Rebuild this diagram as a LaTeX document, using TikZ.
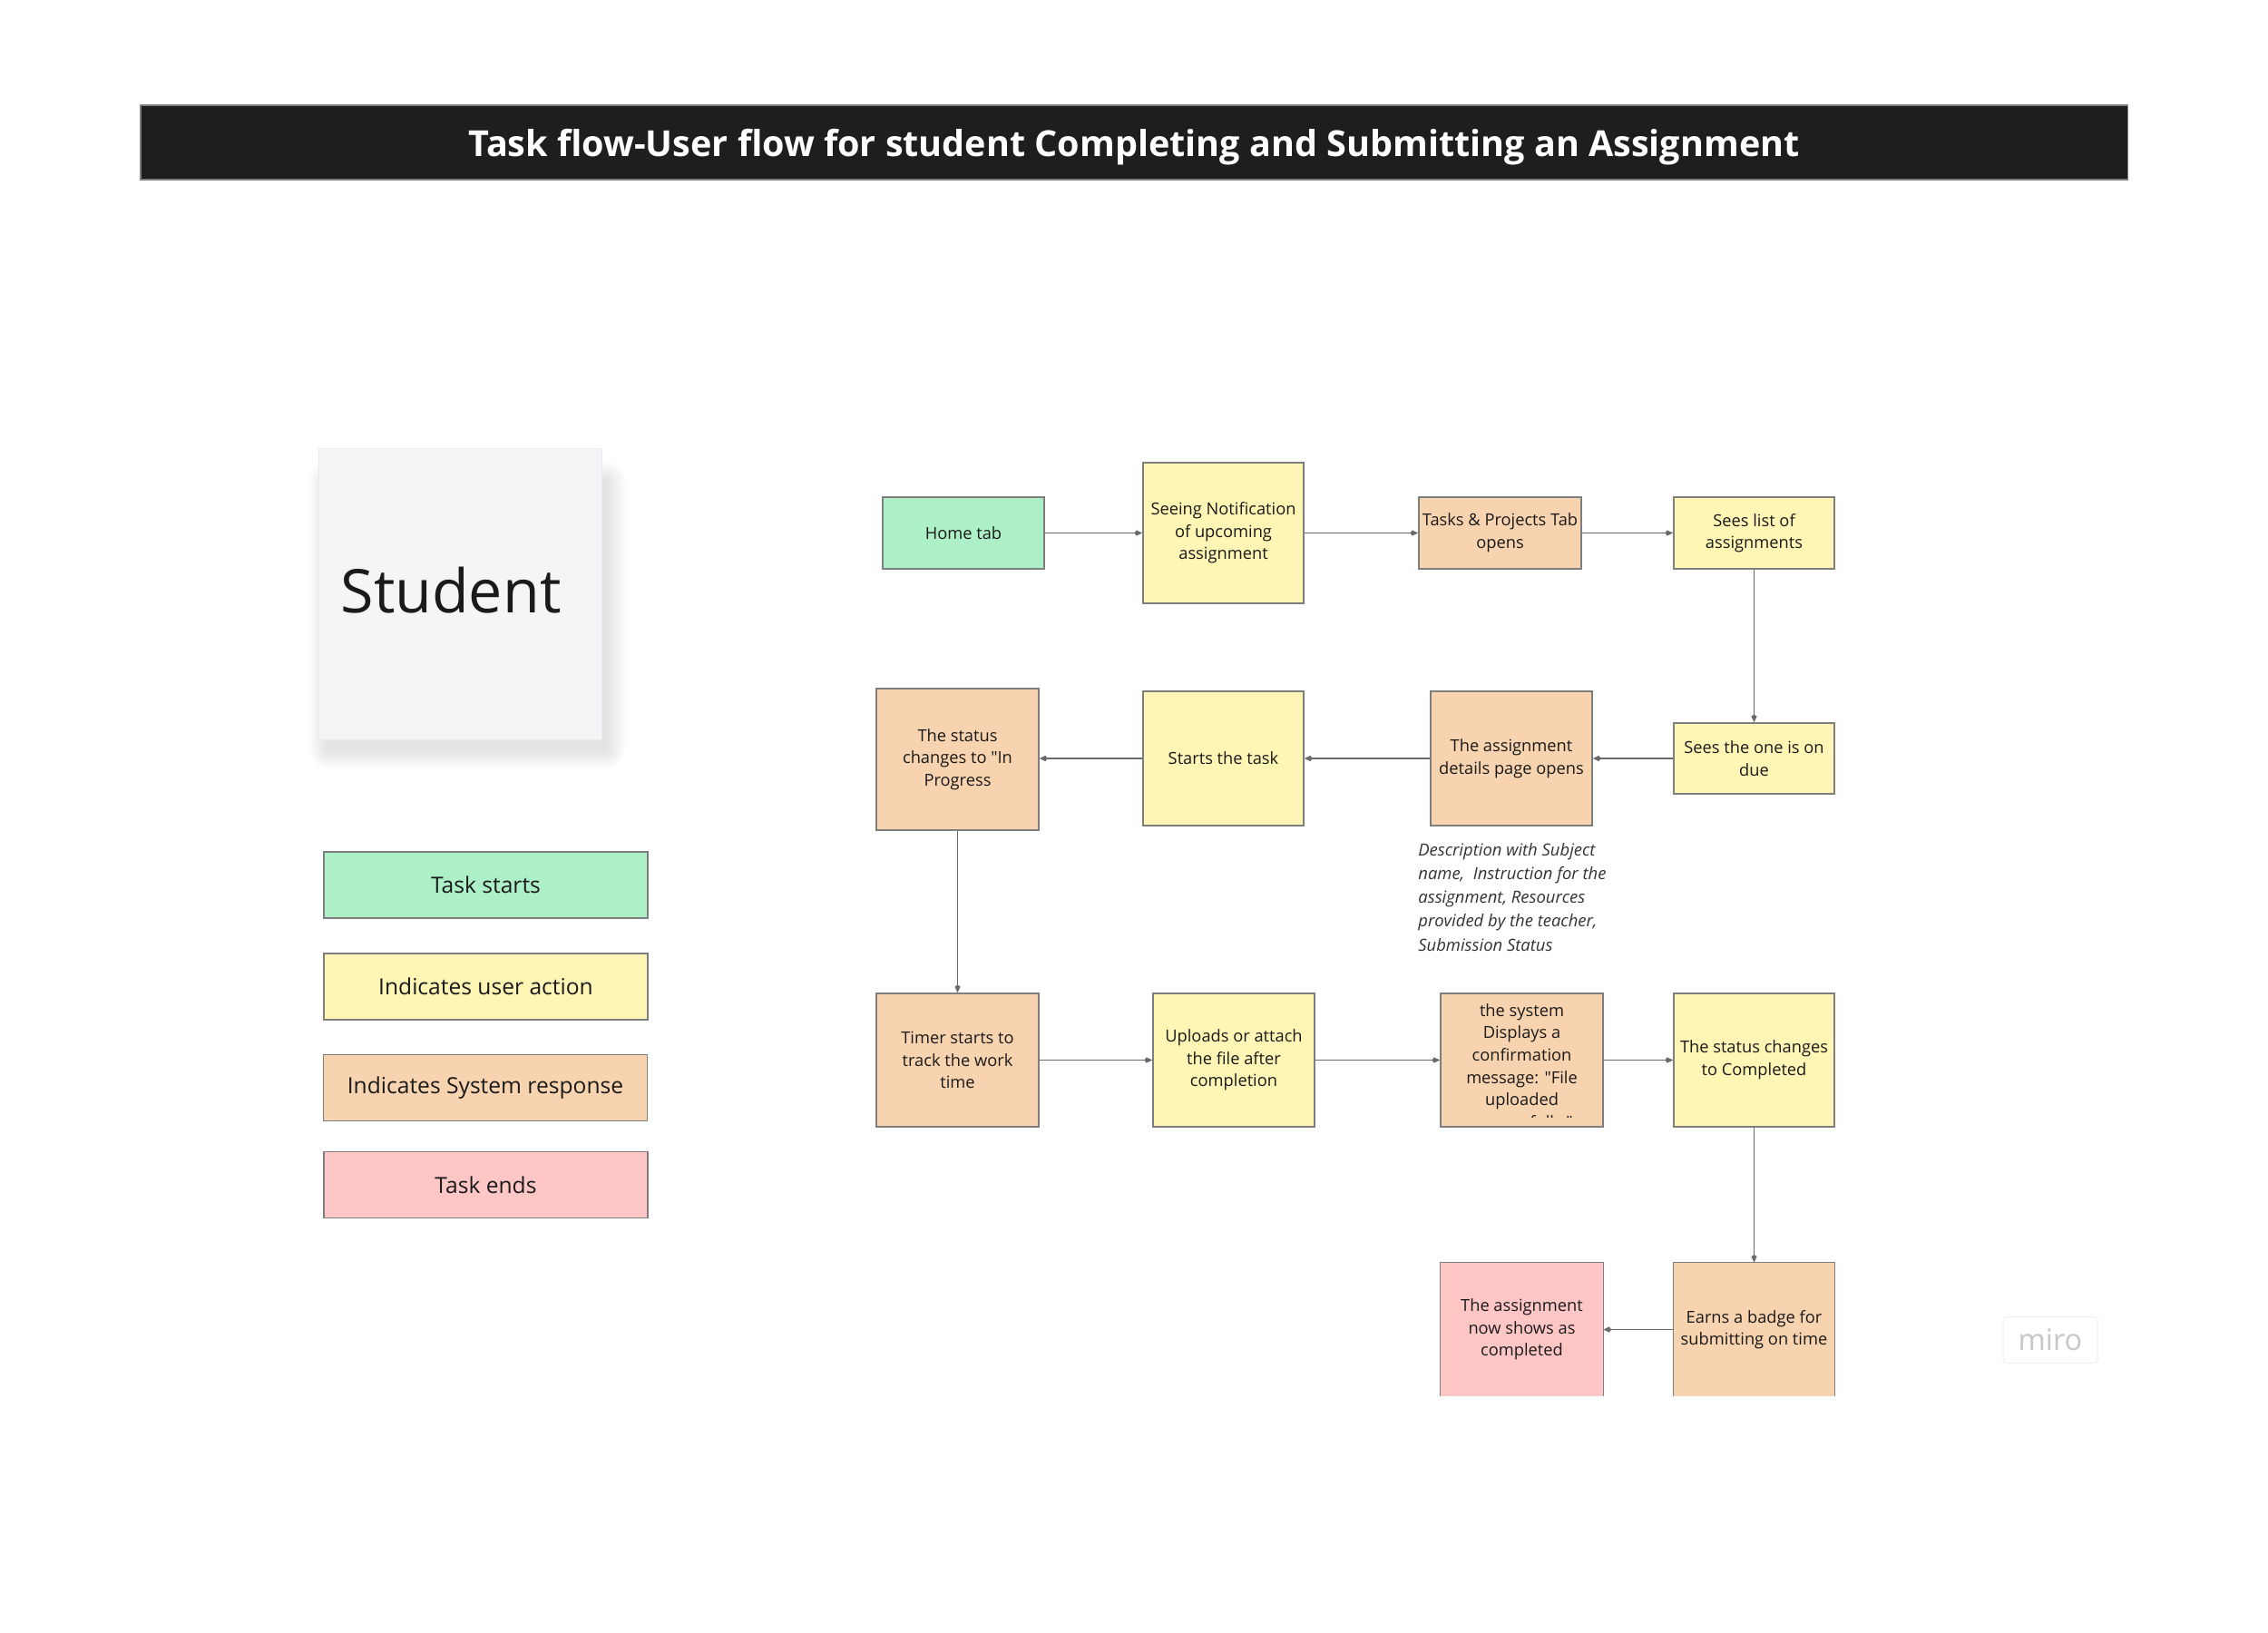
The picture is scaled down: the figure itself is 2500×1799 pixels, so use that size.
\documentclass[tikz,border=0pt]{standalone}
\usepackage{fontspec}
\setmainfont{Open Sans}[Ligatures=TeXOff]
\usetikzlibrary{arrows.meta}
\definecolor{cgreen}{HTML}{ADF0C7}
\definecolor{cyellow}{HTML}{FFF6B6}
\definecolor{corange}{HTML}{F8D3AF}
\definecolor{cpink}{HTML}{FFC6C6}
\definecolor{cborder}{HTML}{7E7E7E}
\definecolor{cline}{HTML}{6A6A6A}
\definecolor{ctext}{HTML}{1A1A1A}
\definecolor{ctitle}{HTML}{1E1E1E}
\definecolor{cstudent}{HTML}{F4F5F7}
\begin{document}
\begin{tikzpicture}[x=0.02cm,y=-0.02cm,
  every node/.style={text=ctext},
  flowbox/.style={draw=cborder,line width=0.9pt,inner sep=0pt,align=center,
    font=\fontsize{10.4}{14}\selectfont},
  fillonly/.style={inner sep=0pt,align=center,font=\fontsize{10.4}{14}\selectfont},
  bd/.style={draw=cborder,line width=0.9pt},
  wbox/.style={minimum width=3.56cm,minimum height=1.58cm},
  tbox/.style={minimum width=3.56cm,minimum height=2.96cm},
  legend/.style={draw=cborder,line width=0.9pt,minimum width=7.14cm,minimum height=1.46cm,
    inner sep=0pt,font=\fontsize{14}{16}\selectfont},
  conn/.style={draw=cline,line width=0.9pt,-{Kite[length=5pt,width=3.5pt]}}
]
\useasboundingbox (0,0) rectangle (2500,1799);
\fill[white] (0,0) rectangle (2500,1799);

% title bar
\fill[ctitle] (155,116) rectangle (2345,198);
\draw[cborder,line width=0.6pt] (155,116) rectangle (2345,198);
\node[inner sep=0pt,text=white,font=\bfseries\fontsize{22.5}{26}\selectfont] (title) at (1250,162)
  {Task flow-User flow for student Completing and Submitting an Assignment};

% student card with soft shadow
\foreach \i in {1,...,14}{
  \fill[black,opacity=0.006,rounded corners=\i pt] (362-1.6*\i,530-1.6*\i) rectangle (668+1.6*\i,826+1.6*\i);
}
\node[fill=cstudent,draw=black!8,line width=0.5pt,minimum width=6.24cm,minimum height=6.42cm,inner sep=0pt] (student) at (507,654.5) {};
\node[font=\fontsize{37.8}{42}\selectfont,inner sep=0pt] (studentlabel) at (497,651) {Student};

% legend
\node[legend,fill=cgreen] (lgstart) at (535.5,975.5) {Task starts};
\node[legend,fill=cyellow] (lguser) at (535.5,1087.5) {Indicates user action};
\node[legend,fill=corange] (lgsys) at (535,1199) {Indicates System response};
\node[legend,fill=cpink] (lgend) at (535.5,1306) {Task ends};

% row 1
\node[flowbox,wbox,fill=cgreen] (home) at (1062,587.5) {Home tab};
\node[flowbox,fill=cyellow,minimum width=3.54cm,minimum height=3.1cm] (notif) at (1348.5,587.5)
  {Seeing Notification\\of upcoming\\assignment};
\node[flowbox,wbox,fill=corange,minimum width=3.58cm] (tasks) at (1653.5,587.5) {Tasks \& Projects Tab\\opens};
\node[flowbox,wbox,fill=cyellow,minimum width=3.54cm] (list) at (1933.5,587.5) {Sees list of\\assignments};

% row 2
\node[flowbox,wbox,fill=cyellow,minimum width=3.54cm,minimum height=1.56cm] (due) at (1933.5,836) {Sees the one is on\\due};
\node[flowbox,tbox,fill=corange] (details) at (1666,836) {The assignment\\details page opens};
\node[flowbox,tbox,fill=cyellow,minimum width=3.54cm] (starts) at (1348.5,836) {Starts the task};
\node[flowbox,tbox,fill=corange,minimum width=3.58cm,minimum height=3.12cm] (inprog) at (1055.5,837)
  {The status\\changes to "In\\Progress};

\node[align=left,anchor=north west,inner sep=0pt,font=\itshape\fontsize{10.5}{14.9}\selectfont,text=black!80] (desc) at (1563,929)
  {Description with Subject\\name,\ \ Instruction for the\\assignment, Resources\\provided by the teacher,\\Submission Status};

% row 3
\node[flowbox,tbox,fill=corange,minimum width=3.58cm,minimum height=2.94cm] (timer) at (1055.5,1168.5)
  {Timer starts to\\track the work\\time};
\node[flowbox,tbox,fill=cyellow,minimum height=2.94cm] (upload) at (1360,1168.5)
  {Uploads or attach\\the file after\\completion};
\node[flowbox,tbox,fill=corange,minimum width=3.58cm,minimum height=2.94cm] (sys) at (1677.5,1168.5) {};
\begin{scope}
  \clip ([xshift=1pt]sys.north west) rectangle ([xshift=-1pt,yshift=0.22cm]sys.south east);
  \node[fillonly,anchor=north] (systext) at (1677.5,1106)
    {the system\\Displays a\\confirmation\\message: "File\\uploaded\\successfully."};
\end{scope}
\node[flowbox,tbox,fill=cyellow,minimum width=3.54cm,minimum height=2.94cm] (done) at (1933.5,1168.5)
  {The status changes\\to Completed};

% row 4 (bottom edge cut off)
\node[fillonly,fill=corange,minimum width=3.54cm,minimum height=2.94cm] (badge) at (1933.5,1465.5)
  {Earns a badge for\\submitting on time};
\draw[bd] (badge.south west) -- (badge.north west) -- (badge.north east) -- (badge.south east);
\node[fillonly,fill=cpink,minimum width=3.58cm,minimum height=2.94cm] (complete) at (1677.5,1465.5)
  {The assignment\\now shows as\\completed};
\draw[bd] (complete.south west) -- (complete.north west) -- (complete.north east) -- (complete.south east);

% connectors
\draw[conn] (home) -- (notif);
\draw[conn] (notif) -- (tasks);
\draw[conn] (tasks) -- (list);
\draw[conn] (list) -- (due);
\draw[conn] (due) -- (details);
\draw[conn] (details) -- (starts);
\draw[conn] (starts.west) -- (starts.west -| inprog.east);
\draw[conn] (inprog) -- (timer);
\draw[conn] (timer) -- (upload);
\draw[conn] (upload) -- (sys);
\draw[conn] (sys) -- (done);
\draw[conn] (done) -- (badge);
\draw[conn] (badge) -- (complete);

% miro logo
\node[draw=black!6,line width=0.6pt,rounded corners=2pt,minimum width=2.08cm,minimum height=1.02cm,
  inner sep=0pt,text=black!22,font=\fontsize{18.5}{20}\selectfont] (miro) at (2260,1477) {miro};
\end{tikzpicture}
\end{document}
